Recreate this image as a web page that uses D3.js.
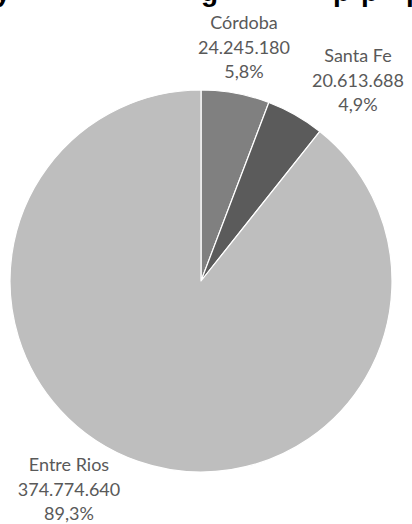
<!DOCTYPE html>
<html>
<head>
<meta charset="utf-8">
<script src="https://cdn.jsdelivr.net/npm/d3@7"></script>
<style>
  html, body { margin: 0; padding: 0; background: #ffffff; }
  svg { display: block; }
</style>
</head>
<body>
<svg id="chart" width="412" height="524"></svg>
<script>
// ---- data ----
const provinces = ["Córdoba", "Santa Fe", "Entre Rios"];
const values = [24245180, 20613688, 374774640];
const valueLabels = ["24.245.180", "20.613.688", "374.774.640"];
const percentLabels = ["5,8%", "4,9%", "89,3%"];
const sliceColors = ["#808080", "#5b5b5b", "#bebebe"];
// fragments of the cropped title line visible at the top edge
const titleFragments = ["y", "g", "p", "p", "p"];

// ---- layout ----
const W = 412, H = 524;
const cx = 201, cy = 281, R = 191;
const labelPos = [
  { x: 244, y: 29 },
  { x: 358, y: 62 },
  { x: 69,  y: 471 }
];
const lineGap = 24.5;
const titleX = [-5, 201, 333, 361, 406];

const svg = d3.select("#chart");

// cropped title
svg.append("g")
  .selectAll("text")
  .data(titleFragments)
  .join("text")
  .attr("x", (d, i) => titleX[i])
  .attr("y", 1)
  .attr("font-family", "Liberation Sans, Arial, sans-serif")
  .attr("font-weight", "bold")
  .attr("font-size", 28)
  .attr("fill", "#000")
  .text(d => d);

const data = provinces.map((p, i) => ({ name: p, value: values[i], i }));

const pie = d3.pie().sort(null).value(d => d.value);
const arc = d3.arc().innerRadius(0).outerRadius(R);

const g = svg.append("g").attr("transform", `translate(${cx},${cy})`);

g.selectAll("path")
  .data(pie(data))
  .join("path")
  .attr("d", arc)
  .attr("fill", d => sliceColors[d.data.i])
  .attr("stroke", "#ffffff")
  .attr("stroke-width", 1.2)
  .attr("stroke-linejoin", "round");

// labels
const lg = svg.append("g")
  .attr("font-family", "Lato, 'Open Sans', sans-serif")
  .attr("font-size", 18)
  .attr("fill", "#595959")
  .attr("text-anchor", "middle");

data.forEach((d, i) => {
  const t = lg.append("text")
    .attr("x", labelPos[i].x)
    .attr("y", labelPos[i].y);
  [d.name, valueLabels[i], percentLabels[i]].forEach((s, k) => {
    t.append("tspan")
      .attr("x", labelPos[i].x)
      .attr("dy", k === 0 ? 0 : lineGap)
      .text(s);
  });
});
</script>
</body>
</html>
